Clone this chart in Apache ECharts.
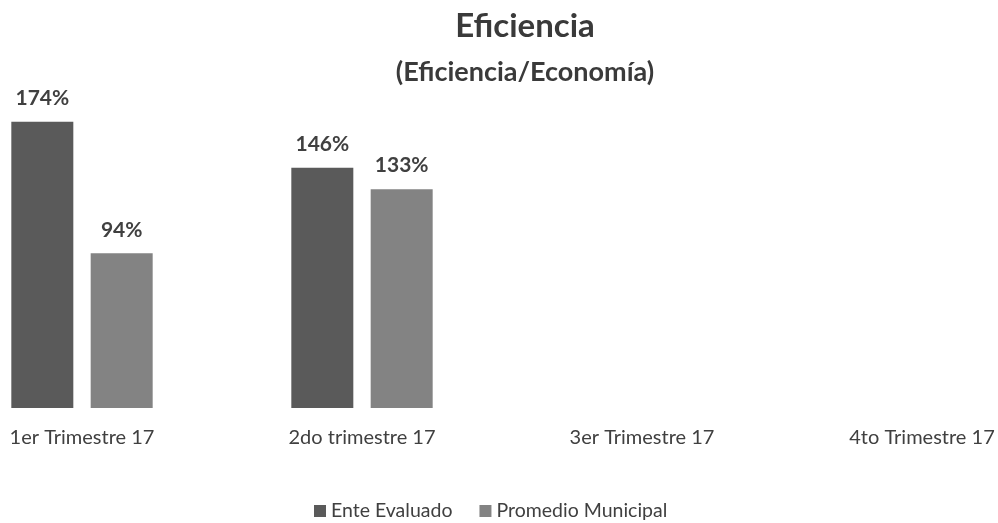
<!DOCTYPE html>
<html>
<head>
<meta charset="utf-8">
<script src="https://cdn.jsdelivr.net/npm/echarts@6/dist/echarts.min.js"></script>
<style>
  html, body { margin: 0; padding: 0; background: #fff; overflow: hidden; }
  /* el grafico original esta recortado por la izquierda */
  #chart { position: absolute; left: -58px; top: 0; width: 1166px; height: 523px; }
</style>
</head>
<body>
<div id="chart"></div>
<script>
// datos
const categories = ['1er Trimestre 17', '2do trimestre 17', '3er Trimestre 17', '4to Trimestre 17'];
const enteEvaluado = [174, 146, null, null];
const promedioMunicipal = [94, 133, null, null];

const fontFamily = 'Lato, "Open Sans", sans-serif';
const textColor = '#404040';

const chart = echarts.init(document.getElementById('chart'));

const barLabel = {
  show: true,
  position: 'top',
  distance: 13,
  fontFamily: fontFamily,
  fontSize: 21,
  fontWeight: 'bold',
  color: textColor,
  formatter: (p) => p.value + '%'
};

chart.setOption({
  animation: false,
  title: [
    {
      text: 'Eficiencia',
      left: 'center',
      top: 5,
      textStyle: { fontFamily: fontFamily, fontSize: 33, fontWeight: 'bold', color: '#3a3a3a' }
    },
    {
      text: '(Eficiencia/Economía)',
      left: 'center',
      top: 54,
      textStyle: { fontFamily: fontFamily, fontSize: 27, fontWeight: 'bold', color: '#3a3a3a' }
    }
  ],
  legend: {
    bottom: -3,
    left: 367,
    itemWidth: 12,
    itemHeight: 12,
    itemGap: 27,
    icon: 'rect',
    textStyle: { fontFamily: fontFamily, fontSize: 19.5, color: textColor }
  },
  grid: {
    left: 0,
    right: 46,
    top: 79,
    bottom: 115,
    containLabel: false
  },
  xAxis: {
    type: 'category',
    data: categories,
    axisLine: { show: false },
    axisTick: { show: false },
    axisLabel: {
      margin: 20,
      fontFamily: fontFamily,
      fontSize: 20,
      color: textColor
    }
  },
  yAxis: {
    type: 'value',
    min: 0,
    max: 200,
    show: false,
    splitLine: { show: false }
  },
  series: [
    {
      name: 'Ente Evaluado',
      type: 'bar',
      data: enteEvaluado,
      barWidth: 62,
      barGap: '28%',
      itemStyle: { color: '#5a5a5a' },
      label: barLabel
    },
    {
      name: 'Promedio Municipal',
      type: 'bar',
      data: promedioMunicipal,
      barWidth: 62,
      itemStyle: { color: '#838383' },
      label: barLabel
    }
  ]
});
</script>
</body>
</html>
